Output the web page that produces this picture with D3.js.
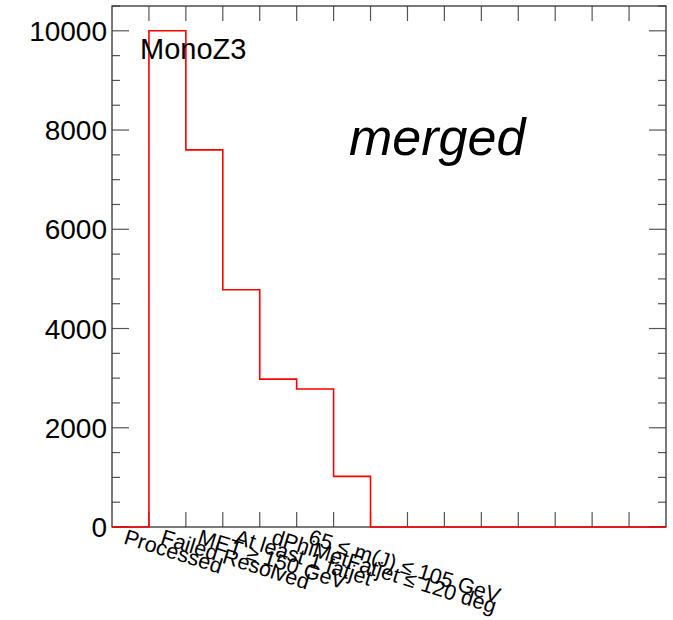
<!DOCTYPE html>
<html>
<head>
<meta charset="utf-8">
<script src="https://cdn.jsdelivr.net/npm/d3@7"></script>
<style>
  html, body { margin: 0; padding: 0; background: #fff; }
  svg { display: block; font-family: "Liberation Sans", Arial, Helvetica, sans-serif; }
</style>
</head>
<body>
<svg id="chart" width="673" height="620"></svg>
<script>
// Cut-flow histogram: one bin per selection step
const cutLabels = [
  "Processed",
  "Failed Resolved",
  "MET \u2265 150 GeV",
  "At least 1 fatjet",
  "dPhiMetFatjet \u2264 120 deg",
  "65 \u2264 m(J) \u2264 105 GeV"
];
const binCount = 15;
const binValues = [0, 10000, 7600, 4780, 2980, 2780, 1020, 0, 0, 0, 0, 0, 0, 0, 0];
const yTicks = [0, 2000, 4000, 6000, 8000, 10000];
const yMax = 10500;
const histTitle = "MonoZ3";
const regionTag = "merged";

const svg = d3.select("#chart");
const margin = { left: 112, top: 6, right: 7, bottom: 93 };
const W = 673 - margin.left - margin.right;
const H = 620 - margin.top - margin.bottom;

const x = d3.scaleLinear().domain([0, binCount]).range([0, W]);
const y = d3.scaleLinear().domain([0, yMax]).range([H, 0]);

const g = svg.append("g").attr("transform", `translate(${margin.left},${margin.top})`);

// Y axis major/minor ticks, on both sides
const minorTicks = d3.range(0, yMax + 1, 500);
const axisColor = "#555";
function yTickMarks(side) {
  const x0 = side === "left" ? 0 : W;
  const dir = side === "left" ? 1 : -1;
  g.selectAll(null).data(minorTicks).enter().append("line")
    .attr("x1", x0).attr("x2", d => x0 + dir * (d % 2000 === 0 ? 17 : 8))
    .attr("y1", d => y(d)).attr("y2", d => y(d))
    .attr("stroke", axisColor).attr("stroke-width", 1.2);
}
yTickMarks("left");
yTickMarks("right");

// X ticks at every bin edge, bottom and top
const edges = d3.range(1, binCount);
g.selectAll(null).data(edges).enter().append("line")
  .attr("x1", d => x(d)).attr("x2", d => x(d))
  .attr("y1", H).attr("y2", H - 15)
  .attr("stroke", axisColor).attr("stroke-width", 1.2);
g.selectAll(null).data(edges).enter().append("line")
  .attr("x1", d => x(d)).attr("x2", d => x(d))
  .attr("y1", 0).attr("y2", 15)
  .attr("stroke", axisColor).attr("stroke-width", 1.2);

// Frame
g.append("rect").attr("x", 0).attr("y", 0).attr("width", W).attr("height", H)
  .attr("fill", "none").attr("stroke", "#333").attr("stroke-width", 1.3);

// Y tick labels
g.selectAll(null).data(yTicks).enter().append("text")
  .attr("x", -5).attr("y", d => y(d)).attr("dy", "0.36em")
  .attr("text-anchor", "end").attr("font-size", 28).attr("fill", "#000")
  .text(d => d);

// Histogram outline (step line)
const pts = [];
binValues.forEach((v, i) => {
  pts.push([x(i), y(v)]);
  pts.push([x(i + 1), y(v)]);
});
g.append("path")
  .attr("d", d3.line()([[x(0), y(0)], ...pts, [x(binCount), y(0)]]))
  .attr("fill", "none").attr("stroke", "#ff0000").attr("stroke-width", 1.6);

// Rotated bin labels
g.selectAll(null).data(cutLabels).enter().append("text")
  .attr("transform", (d, i) => `translate(${x(i + 0.5) - 3},${H + 1}) rotate(17.5)`)
  .attr("dy", "0.74em")
  .attr("font-size", 21.5).attr("fill", "#000")
  .text(d => d);

// Histogram title and region tag
g.append("text").attr("x", 28).attr("y", 53)
  .attr("font-size", 29).attr("fill", "#000").text(histTitle);
g.append("text").attr("x", 237).attr("y", 149)
  .attr("font-size", 52).attr("font-style", "italic").attr("fill", "#000").text(regionTag);
</script>
</body>
</html>
